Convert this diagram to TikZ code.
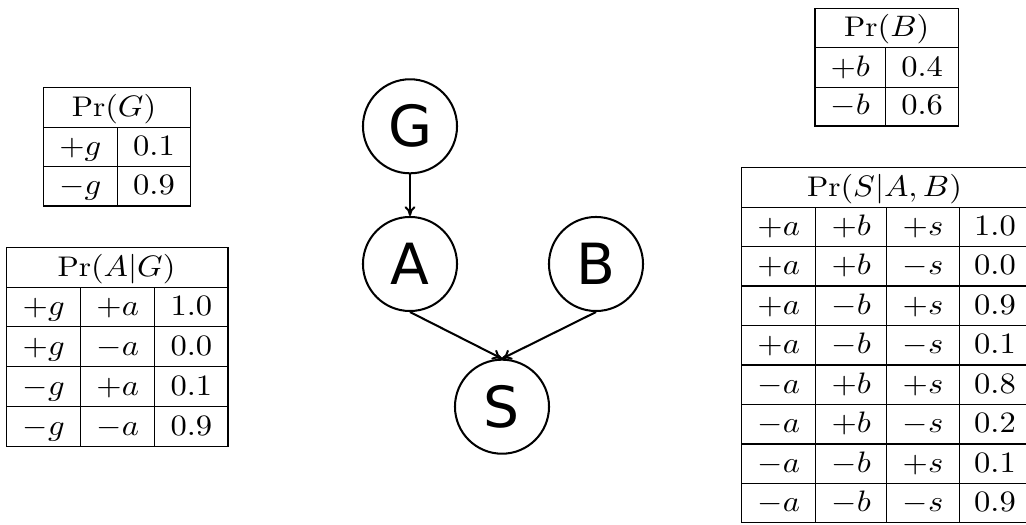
\documentclass[tikz,border=0pt]{standalone}
\usepackage{fontspec}
\usepackage{graphicx}
\usetikzlibrary{arrows.meta}
\newfontfamily\varfont{DejaVu Sans}
\newcommand{\wt}[1]{\scalebox{1.1}[1]{#1}}
\begin{document}
\begin{tikzpicture}[x=0.37pt,y=-0.37pt,
  var/.style={circle,draw,line width=0.75pt,minimum size=34.8pt,inner sep=0pt,font=\fontsize{21}{25}\selectfont\varfont},
  edge/.style={-{To[length=3.6pt,width=4pt]},line width=0.75pt},
  grid/.style={line width=0.4pt},
  cell/.style={anchor=base,inner sep=0pt,font=\fontsize{10.5}{12}\selectfont}]
\useasboundingbox (0,0) rectangle (1026,525);

% Bayes net
\node[var] (G) at (410,126.3) {G};
\node[var] (A) at (410,264) {A};
\node[var] (B) at (596,264) {B};
\node[var] (S) at (502,406.7) {S};
\draw[edge] (G.south) -- (A.north);
\draw[edge] (A.south) -- (S.north);
\draw[edge] (B.south) -- (S.north);

% Pr(G)
\draw[grid] (43.3,87.3) rectangle (190.7,206);
\foreach \y in {127.3,166.7} \draw[grid] (43.3,\y) -- (190.7,\y);
\draw[grid] (117.3,127.3) -- (117.3,206);
\node[cell] (pgh) at (114,116.3) {\wt{$\Pr(G)$}};
\node[cell] (pg11) at (80.3,155.7) {\wt{$+g$}};
\node[cell] (pg12) at (154,155.7) {\wt{$0.1$}};
\node[cell] (pg21) at (80.3,195) {\wt{$-g$}};
\node[cell] (pg22) at (154,195) {\wt{$0.9$}};

% Pr(A|G)
\draw[grid] (6.7,247.3) rectangle (228,446.7);
\foreach \y in {287.3,326.7,366.7,406.7} \draw[grid] (6.7,\y) -- (228,\y);
\foreach \x in {80.7,154.7} \draw[grid] (\x,287.3) -- (\x,446.7);
\node[cell] (pah) at (116.5,276.3) {\wt{$\Pr(A|G)$}};
\node[cell] (pa11) at (43.7,315.7) {\wt{$+g$}};
\node[cell] (pa12) at (117.7,315.7) {\wt{$+a$}};
\node[cell] (pa13) at (191.3,315.7) {\wt{$1.0$}};
\node[cell] (pa21) at (43.7,355.7) {\wt{$+g$}};
\node[cell] (pa22) at (117.7,355.7) {\wt{$-a$}};
\node[cell] (pa23) at (191.3,355.7) {\wt{$0.0$}};
\node[cell] (pa31) at (43.7,395.7) {\wt{$-g$}};
\node[cell] (pa32) at (117.7,395.7) {\wt{$+a$}};
\node[cell] (pa33) at (191.3,395.7) {\wt{$0.1$}};
\node[cell] (pa41) at (43.7,435.7) {\wt{$-g$}};
\node[cell] (pa42) at (117.7,435.7) {\wt{$-a$}};
\node[cell] (pa43) at (191.3,435.7) {\wt{$0.9$}};

% Pr(B)
\draw[grid] (815,8.3) rectangle (958.7,126);
\foreach \y in {47.7,87.3} \draw[grid] (815,\y) -- (958.7,\y);
\draw[grid] (885.7,47.7) -- (885.7,126);
\node[cell] (pbh) at (886.8,36.7) {\wt{$\Pr(B)$}};
\node[cell] (pb11) at (850.3,76.3) {\wt{$+b$}};
\node[cell] (pb12) at (922.2,76.3) {\wt{$0.4$}};
\node[cell] (pb21) at (850.3,115) {\wt{$-b$}};
\node[cell] (pb22) at (922.2,115) {\wt{$0.6$}};

% Pr(S|A,B)
\draw[grid] (1026,167.7) -- (741.7,167.7) -- (741.7,522.3) -- (1026,522.3);
\foreach \y in {207.3,246.7,286,325.7,365,404.3,444,483.3} \draw[grid] (741.7,\y) -- (1026,\y);
\foreach \x in {815.7,886.7,959.3} \draw[grid] (\x,207.3) -- (\x,522.3);
\node[cell] (psh) at (884.5,196.3) {\wt{$\Pr(S|A,B)$}};
\foreach \a/\b/\s/\p/\yb [count=\i] in {+/+/+/1.0/235.7,+/+/-/0.0/275,+/-/+/0.9/314.7,+/-/-/0.1/354,-/+/+/0.8/393.3,-/+/-/0.2/433,-/-/+/0.1/472.3,-/-/-/0.9/511.3}{
  \node[cell] (ps\i a) at (778.7,\yb) {\wt{$\a a$}};
  \node[cell] (ps\i b) at (851.2,\yb) {\wt{$\b b$}};
  \node[cell] (ps\i s) at (923,\yb) {\wt{$\s s$}};
  \node[cell] (ps\i p) at (995,\yb) {\wt{$\p$}};
}
\end{tikzpicture}
\end{document}
